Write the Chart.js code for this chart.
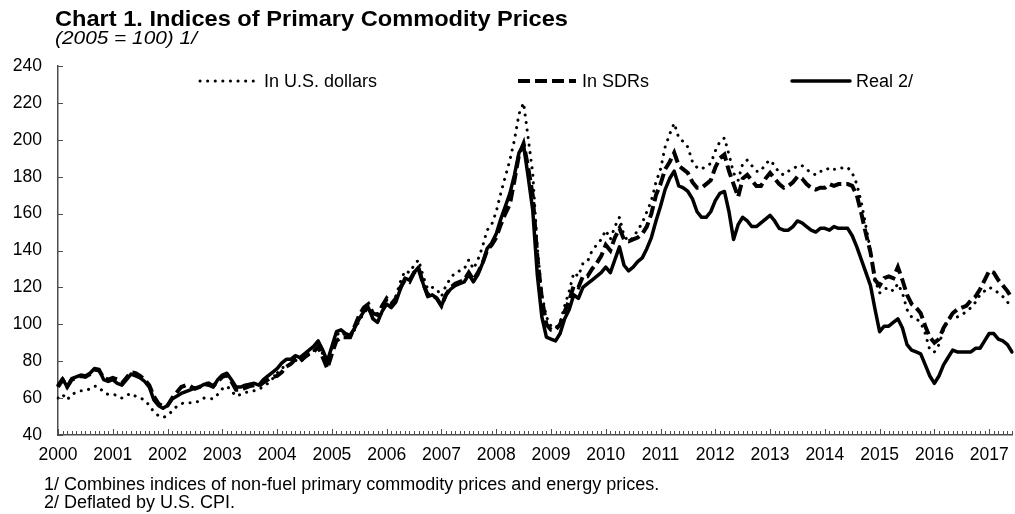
<!DOCTYPE html>
<html>
<head>
<meta charset="utf-8">
<script src="https://cdn.jsdelivr.net/npm/chart.js@4.4.0/dist/chart.umd.min.js"></script>
<style>
  html, body { margin: 0; padding: 0; background: #fff; }
  body { width: 1015px; height: 514px; position: relative; overflow: hidden;
         font-family: "Liberation Sans", Arial, sans-serif; color: #000; }
  #grafico { position: absolute; left: 0; top: 0; }
  .texto { position: absolute; white-space: nowrap; transform-origin: 0 0; }
  #titulo { left: 55px; top: 8px; font-size: 22px; line-height: 22px; font-weight: bold; }
  #subtitulo { left: 55px; top: 29px; font-size: 18px; line-height: 18px; font-style: italic; }
  #nota1 { left: 44px; top: 475px; font-size: 18px; line-height: 18px; }
  #nota2 { left: 44px; top: 493px; font-size: 18px; line-height: 18px; }
</style>
</head>
<body>
<canvas id="grafico" width="1015" height="514"></canvas>
<div id="titulo" class="texto">Chart 1. Indices of Primary Commodity Prices</div>
<div id="subtitulo" class="texto">(2005 = 100) 1/</div>
<div id="nota1" class="texto">1/ Combines indices of non-fuel primary commodity prices and energy prices.</div>
<div id="nota2" class="texto">2/ Deflated by U.S. CPI.</div>
<script>
// Rótulos do eixo X (um por ano) e nomes das séries
const anos = ['2000','2001','2002','2003','2004','2005','2006','2007','2008',
              '2009','2010','2011','2012','2013','2014','2015','2016','2017'];
const nomeSeries = ['In U.S. dollars', 'In SDRs', 'Real 2/'];

// Índices mensais (2005 = 100), jan/2000 a jun/2017
const emDolares = [
  60, 62, 59, 62, 63, 64, 64, 65, 66.5, 66, 63, 62,
  62, 61.5, 60, 61.5, 62.5, 61, 60, 59, 56, 52.5, 50.5, 49.5,
  50.5, 53, 55.5, 57, 57.5, 57.5, 57.5, 58.5, 60, 60, 59.5, 62,
  65, 66.5, 64, 61, 62, 63, 63.5, 64, 64.5, 66.5, 68, 70.5,
  73.5, 76, 78, 78.5, 80.5, 79.5, 81.5, 84, 85.5, 88.5, 84, 78,
  86, 94, 96, 94, 93, 97, 102, 106, 109, 103, 101, 107,
  113, 111, 115, 123, 129, 128, 132, 135, 126, 119, 120, 119,
  115, 121, 125, 128, 129, 130, 135, 130, 135, 142, 151, 154,
  161, 171, 180, 189, 200, 214, 220, 201, 182, 142, 116, 104,
  99, 98, 101, 110, 118, 128, 126, 133, 134, 140, 143, 146,
  151, 146, 153, 158, 148, 145, 147, 151, 155, 161, 167, 177,
  184, 196, 203, 209, 201, 199, 196, 188, 185, 184, 186, 187,
  194, 199, 201, 192, 182, 178, 187, 189, 186, 183, 183, 187,
  189, 186, 182, 181, 183, 184, 186, 186, 184, 182, 181, 183,
  183, 185, 184, 184, 185, 185, 182, 176, 166, 153, 140, 124,
  117, 119, 120, 118, 122, 117, 108, 104, 103, 101, 95, 86,
  85, 89, 97, 103, 104, 104, 105, 107, 109, 112, 116, 118,
  120, 119, 117, 115, 112, 110
];

const emDES = [
  66, 70, 66, 70, 71, 72, 71.5, 73, 75.5, 75, 71, 70,
  71, 70, 68, 71, 74, 73.5, 72, 70, 67, 61, 57, 55.5,
  56, 60, 63, 66, 67, 66.5, 65, 66, 67.5, 68, 66.5, 69,
  71.5, 72.5, 69, 64.5, 64.5, 65.5, 66.5, 67, 66.5, 68.5, 70, 71.5,
  72, 74, 77, 78.5, 81, 80, 82, 84, 85, 88, 82, 76,
  84, 91, 93, 93, 93, 99, 105, 109, 111, 106, 105, 110,
  114, 111, 114, 120, 124, 123, 128, 130, 122, 116, 116, 114,
  110, 116, 120, 122, 123, 124, 128, 124, 128, 133, 140, 143,
  147, 154, 160, 165, 178, 192, 198, 185, 170, 137, 114, 100,
  97, 97, 100, 107, 113, 121, 120, 126, 126, 130, 133, 137,
  143, 140, 147, 152, 146, 145, 146, 147, 149, 153, 160, 170,
  176, 184, 188, 193, 186, 184, 182, 177, 174, 174, 176, 178,
  185, 190, 192, 183, 176, 169, 179, 181, 178, 175, 175, 179,
  182, 179, 176, 174, 175, 177, 180, 179, 176, 174, 173, 174,
  174, 176, 175, 176, 176, 176, 175, 170, 160, 149, 139, 124,
  121, 125, 126, 125, 131, 124, 116, 111, 109, 106, 99, 93,
  90, 92, 98, 102, 106, 108, 109, 110, 113, 115, 119, 124,
  129, 128, 124, 121, 118, 114
];

const real = [
  67, 70.5, 66, 70.5, 71.5, 72.5, 72, 73.5, 76, 75.5, 70, 69,
  70, 68, 67, 70, 73, 72, 71, 69, 66, 59, 56, 54.5,
  56, 59.5, 61, 62.5, 63.5, 64.5, 65.5, 66, 67.5, 67, 66, 70,
  72.5, 73.5, 70, 66, 66, 67, 67.5, 68, 67, 70, 72, 74,
  76, 79, 81, 81, 83, 82, 84, 86, 88, 91, 86, 80,
  88, 96, 97, 95, 94, 98, 103, 107, 109, 103, 101, 107,
  111, 109, 112, 119, 125, 124, 128, 131, 122, 115, 116, 114,
  110, 116, 119, 121, 122, 123, 127, 123, 127, 133, 141, 144,
  149, 157, 164, 171, 181, 193, 197, 180, 162, 127, 104, 93,
  92, 91, 95, 103, 108, 116, 114, 120, 122, 124, 126, 128,
  131, 128, 135, 142, 132, 129, 131, 134, 136, 141, 147, 156,
  164, 173, 179, 183, 175, 174, 172, 168, 161, 158, 158, 161,
  167, 171, 172, 161, 146, 154, 158, 156, 153, 153, 155, 157,
  159, 156, 152, 151, 151, 153, 156, 155, 153, 151, 150, 152,
  152, 151, 153, 152, 152, 152, 148, 142, 135, 128, 121, 108,
  96, 99, 99, 101, 103, 98, 89, 86, 85, 84, 78, 72,
  68, 72, 78, 82, 86, 85, 85, 85, 85, 87, 87, 91,
  95, 95, 92, 91, 89, 85
];

// Uma categoria por mês
const nomesMeses = ['jan','fev','mar','abr','mai','jun','jul','ago','set','out','nov','dez'];
const meses = anos.flatMap(a => nomesMeses.map(m => m + '/' + a)).slice(0, real.length);

const FONTE = '"Liberation Sans", Arial, sans-serif';
Chart.defaults.font.family = FONTE;
Chart.defaults.color = '#000';

// Marcas curtas para dentro da área do gráfico
const marcasInternas = {
  id: 'marcasInternas',
  afterDraw(chart) {
    const { ctx, chartArea, scales: { x, y } } = chart;
    ctx.save();
    ctx.strokeStyle = '#4d4d4d';
    ctx.lineWidth = 1;
    x.ticks.forEach((t, i) => {
      const px = Math.round(x.getPixelForTick(i)) + 0.5;
      const tam = i % 12 === 0 ? 6 : 4;
      ctx.beginPath();
      ctx.moveTo(px, chartArea.bottom);
      ctx.lineTo(px, chartArea.bottom - tam);
      ctx.stroke();
    });
    y.ticks.forEach((t, i) => {
      const py = Math.round(y.getPixelForTick(i)) + 0.5;
      ctx.beginPath();
      ctx.moveTo(chartArea.left, py);
      ctx.lineTo(chartArea.left + 5, py);
      ctx.stroke();
    });
    ctx.restore();
  }
};

// Legenda em linha, dentro da área do gráfico
const legendaInterna = {
  id: 'legendaInterna',
  afterDraw(chart) {
    const ctx = chart.ctx;
    const inicio = [200, 518, 792];
    const yLeg = 81;
    ctx.save();
    chart.data.datasets.forEach((ds, i) => {
      const x0 = inicio[i];
      ctx.beginPath();
      ctx.strokeStyle = ds.borderColor;
      ctx.lineWidth = ds.borderWidth;
      ctx.setLineDash(ds.borderDash || []);
      ctx.lineCap = ds.borderCapStyle || 'butt';
      ctx.moveTo(x0, yLeg);
      ctx.lineTo(x0 + 58, yLeg);
      ctx.stroke();
      ctx.setLineDash([]);
      ctx.fillStyle = '#000';
      ctx.font = '18px ' + FONTE;
      ctx.textBaseline = 'middle';
      ctx.fillText(ds.label, x0 + 64, yLeg + 1);
    });
    ctx.restore();
  }
};

new Chart(document.getElementById('grafico'), {
  type: 'line',
  data: {
    labels: meses,
    datasets: [
      { label: nomeSeries[0], data: emDolares, borderColor: '#000', borderWidth: 3,
        borderDash: [0.1, 7.5], borderCapStyle: 'round' },
      { label: nomeSeries[1], data: emDES, borderColor: '#000', borderWidth: 4,
        borderDash: [12, 5], borderCapStyle: 'butt' },
      { label: nomeSeries[2], data: real, borderColor: '#000', borderWidth: 3.5,
        borderJoinStyle: 'round', borderCapStyle: 'round' }
    ]
  },
  options: {
    responsive: false,
    animation: false,
    elements: { point: { radius: 0 }, line: { tension: 0 } },
    layout: { padding: { top: 66, right: 3, bottom: 49, left: 0 } },
    plugins: { legend: { display: false }, tooltip: { enabled: false } },
    scales: {
      x: {
        type: 'category',
        grid: { display: false, tickLength: 9 },
        border: { display: true, color: '#4d4d4d', width: 1.5 },
        ticks: {
          autoSkip: false, maxRotation: 0, minRotation: 0, padding: 1,
          font: { size: 17.5 },
          callback: (v, i) => (i % 12 === 0 ? anos[i / 12] : '')
        },
        afterFit: s => { s.height = 30; }
      },
      y: {
        min: 40, max: 240,
        grid: { display: false, drawTicks: false },
        border: { display: true, color: '#4d4d4d', width: 1.5 },
        ticks: { stepSize: 20, padding: 16, font: { size: 17.5 } },
        afterFit: s => { s.width = 58; }
      }
    }
  },
  plugins: [marcasInternas, legendaInterna]
});

// Ajusta a largura dos textos à do original
function ajustarLargura(id, largura) {
  const el = document.getElementById(id);
  const w = el.getBoundingClientRect().width;
  el.style.transform = 'scaleX(' + (largura / w) + ')';
}
ajustarLargura('titulo', 513);
ajustarLargura('subtitulo', 142);
</script>
</body>
</html>
